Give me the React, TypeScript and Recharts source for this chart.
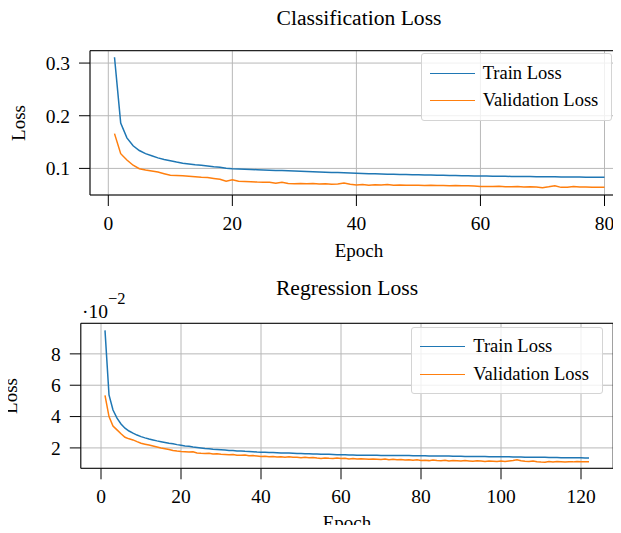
import React from 'react';
import { LineChart, Line, XAxis, YAxis, CartesianGrid, Legend, ReferenceArea } from 'recharts';

// classification loss, epochs 1..80
const clsTrain = [
  0.311, 0.186, 0.158, 0.143, 0.134, 0.128, 0.124, 0.120, 0.117, 0.1145,
  0.112, 0.110, 0.1085, 0.107, 0.106, 0.1045, 0.103, 0.102, 0.1005, 0.0995,
  0.0990, 0.0985, 0.0980, 0.0975, 0.0970, 0.0966, 0.0962, 0.0958, 0.0954, 0.0950,
  0.0945, 0.0941, 0.0936, 0.0932, 0.0928, 0.0924, 0.0920, 0.0916, 0.0911, 0.0906,
  0.0903, 0.0900, 0.0897, 0.0894, 0.0891, 0.0888, 0.0886, 0.0883, 0.0881, 0.0878,
  0.0876, 0.0873, 0.0871, 0.0869, 0.0866, 0.0864, 0.0862, 0.0860, 0.0857, 0.0855,
  0.0854, 0.0852, 0.0851, 0.0850, 0.0848, 0.0847, 0.0846, 0.0845, 0.0843, 0.0842,
  0.0841, 0.0840, 0.0839, 0.0838, 0.0836, 0.0835, 0.0834, 0.0833, 0.0832, 0.0830,
];
const clsVal = [
  0.166, 0.128, 0.116, 0.106, 0.0995, 0.097, 0.095, 0.093, 0.090, 0.087,
  0.0865, 0.086, 0.085, 0.084, 0.083, 0.0825, 0.081, 0.0795, 0.0758, 0.0786,
  0.0758, 0.0752, 0.0745, 0.074, 0.0738, 0.0735, 0.0718, 0.0735, 0.0712, 0.0711,
  0.0714, 0.0708, 0.0712, 0.0705, 0.0708, 0.0698, 0.0702, 0.0722, 0.0700, 0.0686,
  0.0692, 0.0680, 0.0688, 0.0684, 0.0696, 0.0682, 0.0684, 0.0682, 0.0680, 0.0679,
  0.0676, 0.0678, 0.0674, 0.0676, 0.0672, 0.0675, 0.0670, 0.0669, 0.0668, 0.0656,
  0.0658, 0.0655, 0.0660, 0.0654, 0.0650, 0.0655, 0.0646, 0.0652, 0.0648, 0.0634,
  0.0650, 0.0670, 0.0640, 0.0642, 0.0658, 0.0645, 0.0648, 0.0643, 0.0641, 0.0641,
];

// regression loss (x 1e-2), epochs 1..122
const regTrain = [
  9.50, 5.38, 4.42, 3.90, 3.53, 3.26, 3.08, 2.94, 2.82, 2.72,
  2.64, 2.57, 2.51, 2.45, 2.40, 2.35, 2.30, 2.26, 2.21, 2.17,
  2.13, 2.10, 2.06, 2.03, 2.00, 1.97, 1.95, 1.92, 1.90, 1.88,
  1.86, 1.84, 1.83, 1.81, 1.80, 1.78, 1.77, 1.76, 1.74, 1.73,
  1.72, 1.71, 1.70, 1.69, 1.68, 1.68, 1.67, 1.66, 1.65, 1.64,
  1.63, 1.63, 1.62, 1.61, 1.60, 1.60, 1.59, 1.58, 1.57, 1.56,
  1.56, 1.55, 1.55, 1.54, 1.54, 1.54, 1.53, 1.53, 1.53, 1.52,
  1.52, 1.52, 1.52, 1.51, 1.51, 1.51, 1.51, 1.50, 1.50, 1.50,
  1.50, 1.49, 1.49, 1.49, 1.48, 1.48, 1.48, 1.47, 1.47, 1.47,
  1.46, 1.46, 1.46, 1.45, 1.45, 1.45, 1.44, 1.44, 1.44, 1.43,
  1.43, 1.43, 1.42, 1.42, 1.42, 1.41, 1.41, 1.41, 1.40, 1.40,
  1.40, 1.39, 1.39, 1.39, 1.38, 1.38, 1.38, 1.37, 1.37, 1.37, 1.36, 1.36,
];
const regVal = [
  5.35, 4.00, 3.40, 3.15, 2.90, 2.68, 2.58, 2.51, 2.40, 2.30,
  2.24, 2.18, 2.12, 2.06, 2.00, 1.95, 1.90, 1.84, 1.80, 1.77,
  1.76, 1.74, 1.75, 1.68, 1.66, 1.65, 1.66, 1.62, 1.63, 1.60,
  1.58, 1.56, 1.58, 1.54, 1.53, 1.55, 1.50, 1.51, 1.48, 1.45,
  1.47, 1.44, 1.46, 1.42, 1.44, 1.41, 1.43, 1.40, 1.41, 1.38,
  1.40, 1.37, 1.39, 1.35, 1.33, 1.36, 1.34, 1.33, 1.35, 1.32,
  1.34, 1.30, 1.33, 1.29, 1.31, 1.30, 1.27, 1.30, 1.28, 1.26,
  1.29, 1.25, 1.27, 1.24, 1.26, 1.23, 1.25, 1.21, 1.24, 1.20,
  1.22, 1.19, 1.23, 1.20, 1.18, 1.21, 1.17, 1.20, 1.18, 1.16,
  1.19, 1.17, 1.15, 1.18, 1.16, 1.14, 1.17, 1.15, 1.13, 1.16,
  1.14, 1.17, 1.20, 1.24, 1.18, 1.15, 1.13, 1.16, 1.12, 1.10,
  1.09, 1.13, 1.11, 1.14, 1.12, 1.10, 1.12, 1.11, 1.13, 1.12, 1.12, 1.12,
];

const clsXTicks = [0, 20, 40, 60, 80];
const clsYTicks = [0.1, 0.2, 0.3];
const regXTicks = [0, 20, 40, 60, 80, 100, 120];
const regYTicks = [2, 4, 6, 8];

const clsData = clsTrain.map((v, i) => ({ epoch: i + 1, train: v, val: clsVal[i] }));
const regData = regTrain.map((v, i) => ({ epoch: i + 1, train: v, val: regVal[i] }));

const FONT = '"Liberation Serif", "Times New Roman", serif';
const BLUE = '#1f77b4';
const ORANGE = '#ff7f0e';
const GRID = '#b8b8b8';
const tickStyle = { fontSize: 19.5, fill: '#000', fontFamily: FONT };

const LossLegend = ({ payload }: any) => (
  <div
    style={{
      background: 'rgba(255,255,255,0.8)',
      border: '1px solid #d4d4d4',
      borderRadius: 3,
      padding: '5px 0 5px 8px',
      fontFamily: FONT,
      fontSize: 18.5,
      color: '#000',
      boxSizing: 'border-box',
    }}
  >
    {(payload || []).map((p: any) => (
      <div key={p.value} style={{ display: 'flex', alignItems: 'center', height: 27.7 }}>
        <span style={{ width: 45, borderTop: `1.6px solid ${p.color}`, marginRight: 8 }} />
        <span>{p.value}</span>
      </div>
    ))}
  </div>
);

const VLabel = ({ x, y, text }: { x: number; y: number; text: string }) => (
  <text x={x} y={y} transform={`rotate(-90 ${x} ${y})`} textAnchor="middle" dominantBaseline="central" fontSize={19}>
    {text}
  </text>
);

const App = () => {
  return (
    <div
      style={{
        position: 'relative',
        width: 621,
        height: 533,
        margin: -8,
        overflow: 'hidden',
        background: '#fff',
        fontFamily: FONT,
      }}
    >
      <div style={{ position: 'absolute', left: 0, top: 0 }}>
        <LineChart width={640} height={260} data={clsData} margin={{ top: 50.7, right: 11, left: 0, bottom: 0 }}>
          <CartesianGrid stroke={GRID} strokeWidth={1} />
          <XAxis
            dataKey="epoch"
            type="number"
            domain={[-2.95, 83.95]}
            ticks={clsXTicks}
            allowDataOverflow
            height={65}
            tick={tickStyle}
            tickSize={11}
            tickMargin={10}
            axisLine={false}
            tickLine={{ stroke: '#000' }}
          />
          <YAxis
            type="number"
            domain={[0.0495, 0.3235]}
            ticks={clsYTicks}
            allowDataOverflow
            width={90}
            tick={tickStyle}
            tickSize={11}
            tickMargin={9}
            axisLine={false}
            tickLine={{ stroke: '#000' }}
            tickFormatter={(v: number) => v.toFixed(1)}
          />
          <ReferenceArea x1={-2.95} x2={83.95} y1={0.0495} y2={0.3235} fill="none" stroke="#000" strokeWidth={1} ifOverflow="visible" />
          <Line dataKey="train" name="Train Loss" stroke={BLUE} strokeWidth={1.5} dot={false} isAnimationActive={false} />
          <Line dataKey="val" name="Validation Loss" stroke={ORANGE} strokeWidth={1.5} dot={false} isAnimationActive={false} />
          <Legend
            layout="vertical"
            align="center"
            verticalAlign="middle"
            content={<LossLegend />}
            wrapperStyle={{ left: 420.7, top: 53.3, width: 191.3 }}
          />
        </LineChart>
      </div>

      <div style={{ position: 'absolute', left: 0, top: 260 }}>
        <LineChart width={621} height={273} data={regData} margin={{ top: 63.3, right: 7.8, left: 0, bottom: 0 }}>
          <CartesianGrid stroke={GRID} strokeWidth={1} />
          <XAxis
            dataKey="epoch"
            type="number"
            domain={[-5.05, 128.05]}
            ticks={regXTicks}
            allowDataOverflow
            height={64.7}
            tick={tickStyle}
            tickSize={11}
            tickMargin={10}
            axisLine={false}
            tickLine={{ stroke: '#000' }}
          />
          <YAxis
            type="number"
            domain={[0.7, 9.95]}
            ticks={regYTicks}
            allowDataOverflow
            width={80.8}
            tick={tickStyle}
            tickSize={11}
            tickMargin={9}
            axisLine={false}
            tickLine={{ stroke: '#000' }}
          />
          <ReferenceArea x1={-5.05} x2={128.05} y1={0.7} y2={9.95} fill="none" stroke="#000" strokeWidth={1} ifOverflow="visible" />
          <Line dataKey="train" name="Train Loss" stroke={BLUE} strokeWidth={1.5} dot={false} isAnimationActive={false} />
          <Line dataKey="val" name="Validation Loss" stroke={ORANGE} strokeWidth={1.5} dot={false} isAnimationActive={false} />
          <Legend
            layout="vertical"
            align="center"
            verticalAlign="middle"
            content={<LossLegend />}
            wrapperStyle={{ left: 411.3, top: 66.7, width: 192 }}
          />
        </LineChart>
      </div>

      {/* titles, axis names and the offset text */}
      <svg
        width={621}
        height={533}
        style={{ position: 'absolute', left: 0, top: 0, pointerEvents: 'none', fontFamily: FONT }}
      >
        <text x={359} y={25} textAnchor="middle" fontSize={21.6}>Classification Loss</text>
        <text x={359} y={257} textAnchor="middle" fontSize={19}>Epoch</text>
        <VLabel x={18} y={123} text="Loss" />

        <text x={347} y={295} textAnchor="middle" fontSize={21.6}>Regression Loss</text>
        <text x={82} y={318} fontSize={19.5}>
          ·10<tspan dy={-14.5} fontSize={16.5}>−2</tspan>
        </text>
        <text x={347} y={528.5} textAnchor="middle" fontSize={19}>Epoch</text>
        <VLabel x={10} y={396} text="Loss" />
      </svg>
    </div>
  );
};

export default App;
